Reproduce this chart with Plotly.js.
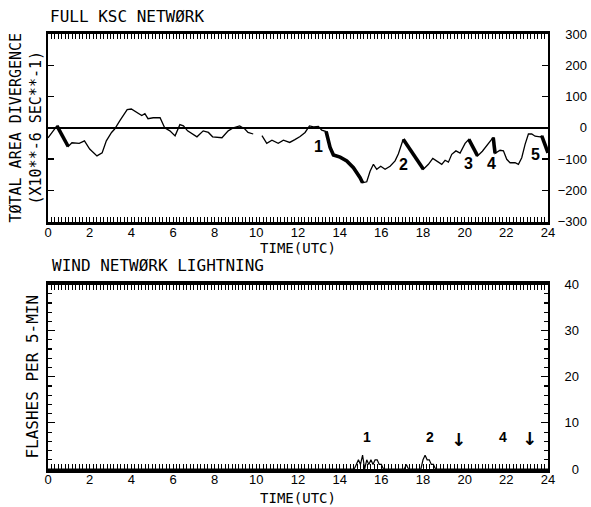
<!DOCTYPE html>
<html>
<head>
<meta charset="utf-8">
<script src="https://cdn.plot.ly/plotly-3.0.1.min.js"></script>
<style>html,body{margin:0;padding:0;background:#fff;}#chart{width:591px;height:507px;}</style>
</head>
<body>
<div id="chart"></div>
<script>
// ---- Data ----
// Total area divergence (x10^-6 s^-1), thin trace (null = data gap)
const divHours = [0, 0.43, 0.97, 1.15, 1.5, 1.75, 2.0, 2.35, 2.6, 2.8, 3.05, 3.2, 3.45, 3.8, 4.0, 4.27, 4.5, 4.65, 4.8, 5.05, 5.38, 5.6, 5.85, 6.1, 6.33, 6.5, 6.7, 7.15, 7.45, 7.7, 7.9, 8.35, 8.65, 8.9, 9.2, 9.45, 9.6, 9.85,
  10.05,
  10.27, 10.5, 10.75, 11.05, 11.3, 11.6, 11.85, 12.1, 12.34, 12.55, 12.75, 12.98, 13.14, 13.35,
  13.54, 13.7, 14.02, 14.34, 14.66, 14.98, 15.1,
  15.3, 15.46, 15.62, 15.78, 15.97, 16.18, 16.42, 16.66, 16.82, 16.98, 17.05,
  18.02, 18.26, 18.47, 18.66, 18.9, 19.06, 19.22, 19.38, 19.58, 19.78, 19.94, 20.02, 20.2,
  20.62, 20.85, 21.1, 21.37, 21.46, 21.7, 21.86, 22.02, 22.18, 22.42, 22.58, 22.74, 22.9, 23.06, 23.22, 23.38, 23.62, 23.7, 24.0];
const divValues = [-32, 6, -60, -48, -50, -42, -68, -90, -80, -42, -15, -4, 23, 58, 60, 48, 39, 45, 29, 32, 32, 0, -10, -26, 10, 6, -10, -29, -10, -15, -29, -32, -10, 0, 6, -4, -15, -20,
  null,
  -25, -50, -40, -50, -40, -47, -38, -28, -15, 6, 3, 4, -8, -12,
  -63, -87, -94, -106, -128, -160, -176,
  -173, -139, -117, -133, -123, -133, -123, -106, -83, -50, -37,
  -133, -117, -98, -106, -117, -104, -110, -85, -74, -81, -63, -50, -37,
  -90, -75, -55, -31, -82, -72, -74, -101, -112, -112, -117, -96, -53, -20, -20, -27, -29, -26, -80];

// Thick (highlighted) segments
const seg0Hours = [0.43, 0.97];           const seg0Values = [6, -60];
const seg1Hours = [13.35, 13.54, 13.7, 14.02, 14.34, 14.66, 14.98, 15.1];
const seg1Values = [-12, -63, -87, -94, -106, -128, -160, -176];
const seg2Hours = [17.05, 18.02];         const seg2Values = [-37, -133];
const seg3Hours = [20.2, 20.62];          const seg3Values = [-37, -90];
const seg4Hours = [21.37, 21.46];         const seg4Values = [-31, -82];
const seg5Hours = [23.7, 24.0];           const seg5Values = [-26, -80];

// Lightning flashes per 5 minutes
const flashHours = [0, 14.7, 14.8, 14.9, 15.0, 15.1, 15.2, 15.3, 15.4, 15.5, 15.6, 15.7, 15.8, 15.9, 16.0, 16.1, 16.2, 17.1, 17.2, 17.3, 17.9, 18.0, 18.1, 18.2, 18.3, 18.4, 18.5, 18.6, 24];
const flashCounts = [0, 0, 1, 2, 1, 3, 0, 2, 1, 2, 1, 2, 2, 1, 1, 0, 0, 0, 1, 0, 0, 2, 3, 2, 2, 1, 1, 0, 0];

// Labels
const divLabels = ['1', '2', '3', '4', '5'];
const divLabelHours = [13.0, 17.04, 20.16, 21.3, 23.38];
const divLabelValues = [-61, -116, -113, -113, -84];
const flashLabels = ['1', '2', '↓', '4', '↓'];
const flashLabelHours = [15.31, 18.34, 19.68, 21.84, 23.09];
const flashLabelValues = [6.9, 6.9, 6.3, 6.9, 6.6];

const xTicks = [0, 2, 4, 6, 8, 10, 12, 14, 16, 18, 20, 22, 24];

// ---- Traces ----
const thin = {width: 1.3, color: '#000'};
const thick = {width: 3.6, color: '#000'};
const traces = [
  {x: divHours, y: divValues, mode: 'lines', line: thin, xaxis: 'x', yaxis: 'y', connectgaps: false},
  {x: seg0Hours, y: seg0Values, mode: 'lines', line: thick, xaxis: 'x', yaxis: 'y'},
  {x: seg1Hours, y: seg1Values, mode: 'lines', line: thick, xaxis: 'x', yaxis: 'y'},
  {x: seg2Hours, y: seg2Values, mode: 'lines', line: thick, xaxis: 'x', yaxis: 'y'},
  {x: seg3Hours, y: seg3Values, mode: 'lines', line: thick, xaxis: 'x', yaxis: 'y'},
  {x: seg4Hours, y: seg4Values, mode: 'lines', line: thick, xaxis: 'x', yaxis: 'y'},
  {x: seg5Hours, y: seg5Values, mode: 'lines', line: thick, xaxis: 'x', yaxis: 'y'},
  {x: flashHours, y: flashCounts, mode: 'lines', line: {width: 1.2, color: '#000'}, xaxis: 'x2', yaxis: 'y2'},
  // invisible traces to activate right-hand label axes
  {x: [0], y: [0], mode: 'markers', marker: {opacity: 0}, xaxis: 'x', yaxis: 'y3', hoverinfo: 'skip'},
  {x: [0], y: [0], mode: 'markers', marker: {opacity: 0}, xaxis: 'x2', yaxis: 'y4', hoverinfo: 'skip'}
];

const mono = 'DejaVu Sans Mono, monospace';
const tickFont = {family: 'Liberation Sans, Arial, sans-serif', size: 13, color: '#000'};
const plotW = 591 - 48 - 2;
const xDom = [0, 500 / plotW];

function xAxis(anchor, standoff) {
  return {
    anchor: anchor, domain: xDom, range: [0, 24],
    tickvals: xTicks, ticktext: xTicks.map(String),
    ticks: 'inside', ticklen: 5, tickwidth: 1, tickcolor: '#000',
    minor: {dtick: 1 / 6, ticks: 'inside', ticklen: 3, tickwidth: 1, tickcolor: '#000'},
    showline: true, linewidth: 3.5, linecolor: '#000', mirror: 'allticks',
    showgrid: false, zeroline: false, tickfont: tickFont, ticklabelstandoff: -4,
    title: {text: 'TIME(UTC)', font: {family: mono, size: 14, color: '#000'}, standoff: standoff}
  };
}

const layout = {
  width: 591, height: 507,
  margin: {l: 48, r: 2, t: 34, b: 38},
  paper_bgcolor: '#fff', plot_bgcolor: '#fff',
  showlegend: false,
  title: {text: 'FULL KSC NETWØRK', font: {family: mono, size: 16, color: '#000'},
          x: 50 / 591, xanchor: 'left', xref: 'container', y: 1 - 16 / 507, yanchor: 'middle', yref: 'container'},
  xaxis: xAxis('y', 0),
  xaxis2: xAxis('y2', 8),
  yaxis: {
    domain: [(469 - 221.5) / 435, 1], range: [-300, 300],
    tickvals: [-300, -200, -100, 0, 100, 200, 300],
    ticks: 'inside', ticklen: 6, tickwidth: 1.2, tickcolor: '#000',
    showline: true, linewidth: 2, linecolor: '#000', mirror: 'allticks',
    showticklabels: false, showgrid: false,
    zeroline: true, zerolinecolor: '#000', zerolinewidth: 1.6,
    title: {text: 'TØTAL AREA DIVERGENCE<br>(X10**-6 SEC**-1)', font: {family: mono, size: 15, color: '#000'}, standoff: 1}
  },
  yaxis2: {
    domain: [0, (469 - 284.5) / 435], range: [0, 40],
    tickvals: [0, 10, 20, 30, 40],
    ticks: 'inside', ticklen: 7, tickwidth: 1.2, tickcolor: '#000',
    minor: {dtick: 2, ticks: 'inside', ticklen: 4, tickwidth: 1.2, tickcolor: '#000'},
    showline: true, linewidth: 2, linecolor: '#000', mirror: 'allticks',
    showticklabels: false, showgrid: false, zeroline: false,
    title: {text: 'FLASHES PER 5-MIN', font: {family: mono, size: 16, color: '#000'}, standoff: 3}
  },
  yaxis3: {
    overlaying: 'y', anchor: 'free', position: (587 - 48) / plotW, side: 'left',
    range: [-300, 300], tickvals: [-300, -200, -100, 0, 100, 200, 300],
    ticks: '', showline: false, showgrid: false, zeroline: false, tickfont: tickFont
  },
  yaxis4: {
    overlaying: 'y2', anchor: 'free', position: (579 - 48) / plotW, side: 'left',
    range: [0, 40], tickvals: [0, 10, 20, 30, 40],
    ticks: '', showline: false, showgrid: false, zeroline: false, tickfont: tickFont
  },
  annotations: [
    {text: 'WIND NETWØRK LIGHTNING', xref: 'paper', yref: 'paper', x: 2 / plotW, y: (469 - 265) / 435,
     xanchor: 'left', yanchor: 'middle', showarrow: false, font: {family: mono, size: 16, color: '#000'}}
  ].concat(divLabels.map((t, i) => ({
    text: t, x: divLabelHours[i], y: divLabelValues[i], xref: 'x', yref: 'y', showarrow: false,
    font: {family: 'Liberation Sans, Arial, sans-serif', size: 16, color: '#000', weight: 'bold'}
  }))).concat(flashLabels.map((t, i) => ({
    text: t, x: flashLabelHours[i], y: flashLabelValues[i], xref: 'x2', yref: 'y2', showarrow: false,
    font: {family: t === '↓' ? 'DejaVu Sans, sans-serif' : 'Liberation Sans, Arial, sans-serif', size: t === '↓' ? 18 : 14, color: '#000', weight: 'bold'}
  })))
};

Plotly.newPlot('chart', traces, layout, {staticPlot: true, displayModeBar: false});
</script>
</body>
</html>
